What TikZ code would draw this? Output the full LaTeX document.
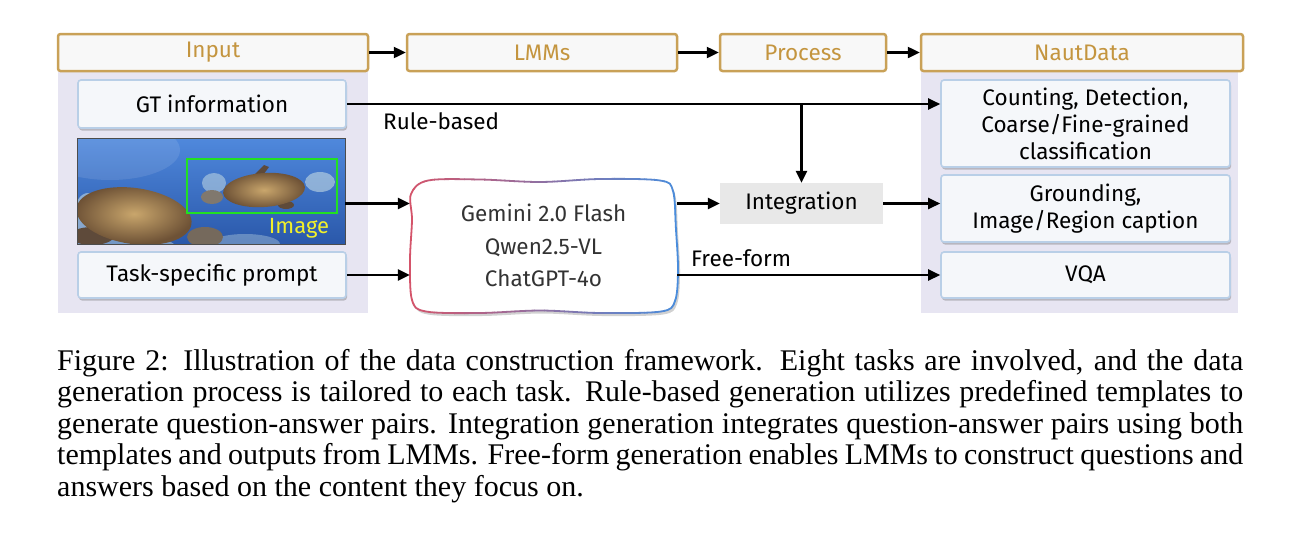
\documentclass[tikz,border=0pt]{standalone}
\usepackage{fontspec}
\setmainfont{Liberation Serif}
\newfontfamily\diagfont{Fira Sans}
\usetikzlibrary{arrows.meta,shadows}
\definecolor{gold}{HTML}{C9A157}
\definecolor{goldtext}{HTML}{C4953F}
\definecolor{hdrfill}{HTML}{F8F8F8}
\definecolor{lav}{HTML}{E7E5F2}
\definecolor{boxfill}{HTML}{F5F7FA}
\definecolor{boxline}{HTML}{B9CFE7}
\definecolor{intfill}{HTML}{E8E8E8}
\definecolor{lmmred}{HTML}{D4546A}
\definecolor{lmmblue}{HTML}{4A8DDC}
\definecolor{seatop}{HTML}{4F88DC}
\definecolor{seabot}{HTML}{2A58AA}
\definecolor{shellin}{HTML}{C9A66C}
\definecolor{shellout}{HTML}{6E5236}
\definecolor{tdark}{HTML}{5E4A3A}
\definecolor{coral}{HTML}{CFE3E6}
\definecolor{bbgreen}{HTML}{22E022}
\definecolor{imgyellow}{HTML}{F2F02A}
\newcommand\dfont{\diagfont\fontsize{22.5}{26}\selectfont}
\begin{document}
\begin{tikzpicture}[x=1pt,y=-1pt,
  hdr/.style={draw=gold, line width=2.5pt, fill=hdrfill, rounded corners=2.5pt,
    minimum height=37pt, inner sep=0pt, text=goldtext, font=\dfont},
  ibox/.style={draw=boxline, line width=1.6pt, fill=boxfill, rounded corners=3pt,
    inner sep=0pt, align=center, font=\diagfont\fontsize{22.5}{27}\selectfont,
    drop shadow={shadow xshift=1pt, shadow yshift=-2.5pt, opacity=0.3, fill=black!70}},
  arr/.style={-{Triangle[length=12pt,width=11pt]}, line width=2.4pt},
  lbl/.style={inner sep=0pt, font=\dfont}]
\useasboundingbox (0,0) rectangle (1300,536);
\fill[white] (0,0) rectangle (1300,536);
% lavender panels
\fill[lav] (58,71) rectangle (368,313);
\fill[lav] (921,71) rectangle (1238,313);
% headers
\node[hdr, minimum width=310pt] (inh) at (213,52.5) {Input};
\node[hdr, minimum width=270pt] (lmh) at (542,52.5) {LMMs};
\node[hdr, minimum width=166pt] (prh) at (803,52.5) {Process};
\node[hdr, minimum width=322pt] (nah) at (1082,52.5) {NautData};
% input boxes
\node[ibox, minimum width=268pt, minimum height=48pt] (gt) at (212,104) {GT information};
\node[ibox, minimum width=268pt, minimum height=46pt] (prm) at (212,275) {Task-specific prompt};
% image
\node[inner sep=0pt, minimum width=267pt, minimum height=105pt] (img) at (211.5,191.5) {};
\begin{scope}
  \clip (img.north west) rectangle (img.south east);
  \shade[top color=seatop, bottom color=seabot] (img.north west) rectangle (img.south east);
  \fill[white, opacity=0.10] (110,150) ellipse [x radius=70pt, y radius=30pt];
  % coral
  \fill[coral, opacity=0.55] (88,215) ellipse [x radius=14pt, y radius=22pt];
  \fill[coral, opacity=0.45] (125,246) ellipse [x radius=50pt, y radius=10pt];
  \fill[coral, opacity=0.5] (214,183) ellipse [x radius=12pt, y radius=10pt];
  \fill[coral, opacity=0.55] (320,182) ellipse [x radius=15pt, y radius=10pt];
  \fill[coral, opacity=0.35] (245,244) ellipse [x radius=35pt, y radius=10pt];
  % left turtle
  \fill[tdark] (92,236) ellipse [x radius=22pt, y radius=9pt];
  \fill[tdark!80!coral] (205,237) ellipse [x radius=18pt, y radius=10pt];
  \shade[inner color=shellin, outer color=shellout, rotate around={-8:(134,216)}]
    (134,216) ellipse [x radius=58pt, y radius=28pt];
  % right turtle
  \fill[tdark] (248,181) -- (264,165) -- (269,167) -- (257,183) -- cycle;
  \fill[tdark!70!coral] (212,197) ellipse [x radius=11pt, y radius=7pt];
  \fill[tdark] (286,205) ellipse [x radius=8pt, y radius=4pt];
  \shade[inner color=shellin, outer color=shellout, rotate around={4:(264,190)}]
    (264,190) ellipse [x radius=41pt, y radius=17pt];
  % box and label
  \draw[bbgreen, line width=2.5pt] (187,159) rectangle (337,213);
  \node[inner sep=0pt, text=imgyellow, font=\diagfont\fontsize{22}{24}\selectfont] (imglbl) at (299,228) {Image};
\end{scope}
\draw[black!70, line width=0.8pt] (img.north west) rectangle (img.south east);
% LMM box (wavy, gradient border)
\path[save path=\lmmp] plot[smooth cycle, tension=0.55] coordinates {
  (428,180.5) (480,179.5) (540,182) (600,179) (660,180.5) (673,191) (676,230)
  (678,270) (675,301) (661,311.5) (600,313) (540,310.5) (480,313) (426,311.5)
  (412,300) (410,260) (412,220) (411,194)};
\begin{scope}[transform canvas={shift={(2pt,-3pt)}}]
  \fill[black, opacity=0.18, use path=\lmmp];
\end{scope}
\fill[white, use path=\lmmp];
\foreach \i in {0,...,27} {
  \pgfmathtruncatemacro{\p}{100-\i*100/27}
  \begin{scope}
    \clip (404+\i*10,170) rectangle (414.5+\i*10,322);
    \draw[lmmred!\p!lmmblue, line width=1.8pt, use path=\lmmp];
  \end{scope}
}
\node[inner sep=0pt, minimum width=267pt, minimum height=133pt, align=center,
  text=black!80, font=\diagfont\fontsize{22.5}{32.5}\selectfont] (lmm) at (543.5,245.5)
  {Gemini 2.0 Flash\\Qwen2.5-VL\\ChatGPT-4o};
% integration
\node[fill=intfill, minimum width=163pt, minimum height=41pt, inner sep=0pt, font=\dfont] (int) at (801.5,203.5) {Integration};
% output boxes
\node[ibox, minimum width=289pt, minimum height=87pt] (cnt) at (1085.5,123.5)
  {Counting, Detection,\\Coarse/Fine-grained\\classification};
\node[ibox, minimum width=289pt, minimum height=67pt] (grd) at (1085.5,208.5)
  {Grounding,\\Image/Region caption};
\node[ibox, minimum width=289pt, minimum height=46pt] (vqa) at (1085.5,275) {VQA};
% connectors
\draw[arr] (inh.east) -- (lmh.west);
\draw[arr] (lmh.east) -- (prh.west);
\draw[arr] (prh.east) -- (nah.west);
\draw[arr] (gt.east) -- (gt.east -| cnt.west);
\draw[arr] (int.north |- gt.east) -- (int.north);
\draw[arr] (img.east |- int.west) -- (lmm.west |- int.west);
\draw[arr] (lmm.east |- int.west) -- (int.west);
\draw[arr] (int.east) -- (int.east -| grd.west);
\draw[arr] (prm.east) -- (prm.east -| lmm.west);
\draw[arr] (lmm.east |- vqa.west) -- (vqa.west);
% labels
\node[lbl, anchor=base west] (rb) at (383,129) {Rule-based};
\node[lbl, anchor=base west] (ff) at (691,266) {Free-form};
% caption
\node[inner sep=0pt, anchor=base west] (cap) at (57,370) {\parbox[t]{1186pt}{%
  \fontsize{30}{31.5}\selectfont\hyphenpenalty=10000\tolerance=9999\emergencystretch=40pt
  Figure 2: Illustration of the data construction framework. Eight tasks are involved, and the data\linebreak
  generation process is tailored to each task. Rule-based generation utilizes predefined templates to\linebreak
  generate question-answer pairs. Integration generation integrates question-answer pairs using both\linebreak
  templates and outputs from LMMs. Free-form generation enables LMMs to construct questions and\linebreak
  answers based on the content they focus on.}};
\end{tikzpicture}
\end{document}
